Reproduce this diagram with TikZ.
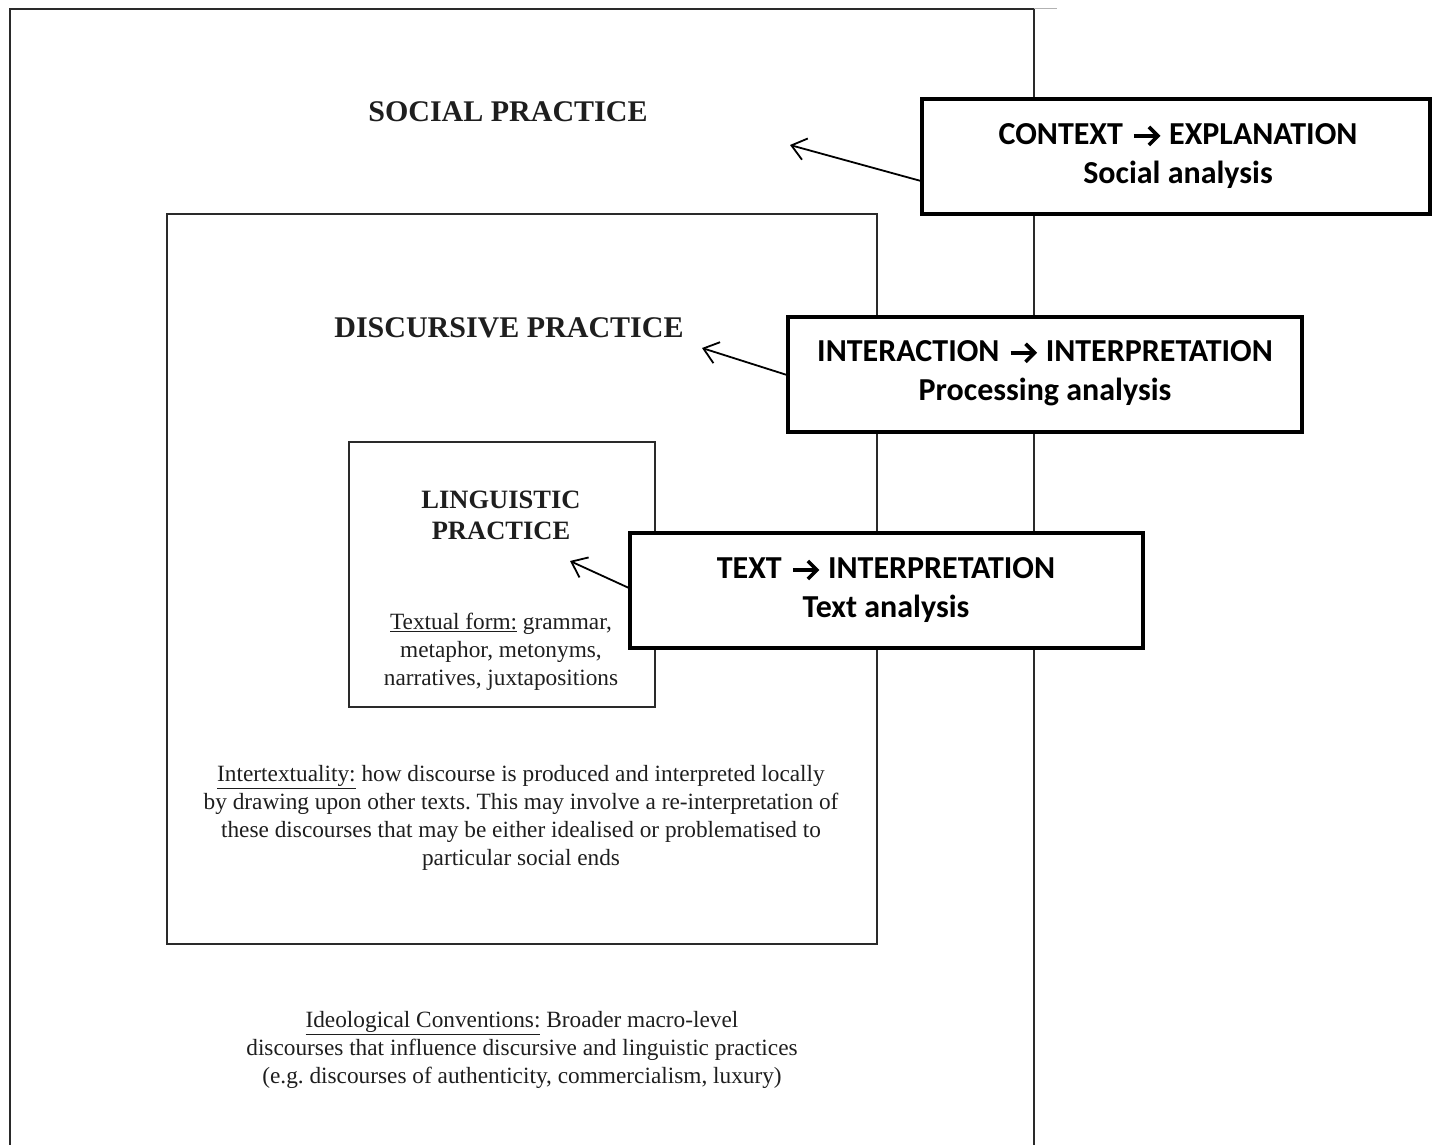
\documentclass[tikz,border=0pt]{standalone}
\usepackage{fontspec}
\setmainfont{Liberation Serif}
\newfontfamily\calfont{Carlito}
\usetikzlibrary{arrows.meta}
\definecolor{frame}{HTML}{2A2A2A}
\definecolor{txt}{HTML}{1E1E1E}
\frenchspacing
\tikzset{
  frameline/.style={draw=frame, line width=2.8pt},
  callout/.style={draw=black, fill=white, line width=4pt, inner sep=0pt},
  calltext/.style={font=\calfont\bfseries\fontsize{32}{39}\selectfont, align=center, inner sep=0pt},
  headtext/.style={font=\bfseries\fontsize{30}{31}\selectfont, text=txt, align=center, inner sep=0pt},
  bodytext/.style={font=\fontsize{23.3}{28}\selectfont, text=txt, align=center, inner sep=0pt},
  pointer/.style={-{Straight Barb[length=14pt,width=22pt,line width=1.8pt]}, line width=1.8pt, black},
}
\newcommand{\rarr}{\hspace{2pt}\tikz[baseline=0pt,x=1pt,y=1pt]{\draw[line width=3.6pt,line cap=butt] (0,8.5) -- (22,8.5); \draw[line width=3.6pt,line join=miter,line cap=butt] (15,17.5) -- (24,8.5) -- (15,-0.5); \path (0,0) (27,0);}\hspace{1pt}}
\begin{document}
\begin{tikzpicture}[x=1pt,y=-1pt]
\useasboundingbox (0,0) rectangle (1432,1144);
% outer frame (open at the bottom)
\coordinate (obl) at (10,1150);
\coordinate (otl) at (10,9);
\coordinate (otr) at (1034,9);
\coordinate (obr) at (1034,1150);
\coordinate (gtl) at (1034,8);
\coordinate (gtr) at (1057,8);
\draw[frameline] (obl) -- (otl) -- (otr) -- (obr);
\draw[gray!60, line width=1pt] (gtl) -- (gtr);
% middle and inner frames
\node[frameline, minimum width=710pt, minimum height=730pt, inner sep=0pt] (mid) at (522,579) {};
\node[frameline, minimum width=306pt, minimum height=265pt, inner sep=0pt] (inn) at (502,574.5) {};
% texts
\node[headtext] (soc) at (508,112) {SOCIAL PRACTICE};
\node[headtext] (dis) at (509,328) {DISCURSIVE PRACTICE};
\node[headtext, font=\bfseries\fontsize{26.5}{31}\selectfont] (lin) at (501,515) {LINGUISTIC\\PRACTICE};
\node[bodytext] (tf) at (501,652) {\underline{Textual form:} grammar,\\metaphor, metonyms,\\narratives, juxtapositions};
\node[bodytext] (itx) at (521,818) {\underline{Intertextuality:} how discourse is produced and interpreted locally\\by drawing upon other texts. This may involve a re-interpretation of\\these discourses that may be either idealised or problematised to\\particular social ends};
\node[bodytext] (ideo) at (522,1050) {\underline{Ideological Conventions:} Broader macro-level\\discourses that influence discursive and linguistic practices\\(e.g. discourses of authenticity, commercialism, luxury)};
% callouts
\node[callout, minimum width=508pt, minimum height=115pt] (c1) at (1176,156.5) {};
\node[calltext] (t1) at (1178,156) {CONTEXT \rarr\ EXPLANATION\\Social analysis};
\node[callout, minimum width=514pt, minimum height=115pt] (c2) at (1045,374.5) {};
\node[calltext] (t2) at (1045,373) {INTERACTION \rarr\ INTERPRETATION\\Processing analysis};
\node[callout, minimum width=513pt, minimum height=115pt] (c3) at (886.5,590.5) {};
\node[calltext] (t3) at (886,590) {TEXT \rarr\ INTERPRETATION\\Text analysis};
% pointers
\coordinate (p1s) at (921,181);
\coordinate (p1e) at (790,145);
\coordinate (p2s) at (787,375);
\coordinate (p2e) at (702,348);
\coordinate (p3s) at (629,588);
\coordinate (p3e) at (570,561);
\draw[pointer] (p1s) -- (p1e);
\draw[pointer] (p2s) -- (p2e);
\draw[pointer] (p3s) -- (p3e);
\end{tikzpicture}
\end{document}
